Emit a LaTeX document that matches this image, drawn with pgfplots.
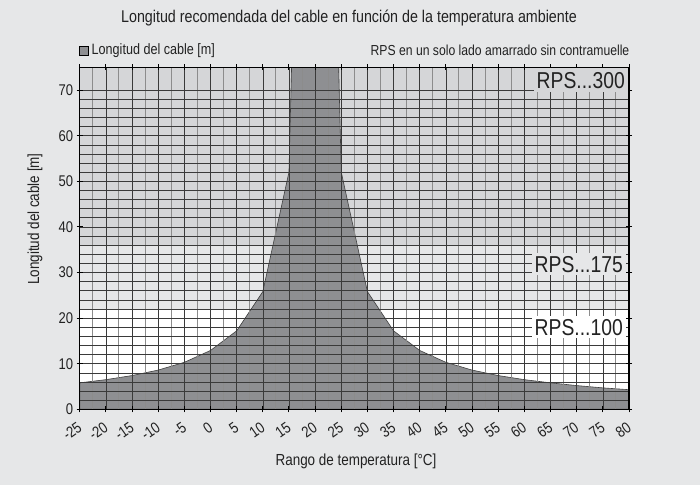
\documentclass[border=0pt]{standalone}
\usepackage{fontspec}
\setmainfont[FakeStretch=0.84]{Liberation Sans}
\usepackage{pgfplots}
\pgfplotsset{compat=1.18}
\definecolor{bg}{HTML}{E6E7E8}
\definecolor{bandlight}{HTML}{E6E7E8}
\definecolor{banddark}{HTML}{D5D6D8}
\definecolor{areagray}{HTML}{8E8F92}
\definecolor{gridmaj}{HTML}{3A3A3A}
\definecolor{gridmin}{HTML}{8C8C8C}
\definecolor{txt}{HTML}{222222}
\newcommand{\fs}[1]{\fontsize{#1bp}{#1bp}\selectfont}
\begin{document}
\begin{tikzpicture}
\fill[bg] (0bp,0bp) rectangle (700bp,485bp);
\begin{axis}[
  at={(79.7bp,75.7bp)}, anchor=south west,
  scale only axis, width=549.3bp, height=342bp,
  xmin=-25, xmax=80, ymin=0, ymax=75,
  xtick={-25,-20,...,80}, ytick={0,10,...,70},
  xticklabels={-25,-20,-15,-10,-5,0,5,10,15,20,25,30,35,40,45,50,55,60,65,70,75,80},
  yticklabels={0,10,20,30,40,50,60,70},
  minor x tick num=1, minor y tick num=4,
  grid=both,
  major x grid style={gridmaj, line width=0.5bp},
  minor x grid style={gridmin, line width=1bp},
  major y grid style={gridmaj, line width=0.6bp},
  minor y grid style={gridmaj, line width=0.6bp},
  axis on top,
  axis line style={black, line width=1.3bp},
  tick style={black, line width=1bp},
  major tick length=6bp, minor tick length=0bp,
  tick align=center,
  every tick label/.append style={font=\fs{15.5}, text=txt},
  xticklabel style={rotate=35, anchor=north east, xshift=-4bp, yshift=-2bp},
  yticklabel style={xshift=0bp},
]
\addplot[fill=white, draw=none] coordinates {(-25,0) (80,0) (80,22) (-25,22)} -- cycle;
\addplot[fill=bandlight, draw=none] coordinates {(-25,22) (80,22) (80,36) (-25,36)} -- cycle;
\addplot[fill=banddark, draw=none] coordinates {(-25,36) (80,36) (80,75) (-25,75)} -- cycle;
\addplot[fill=areagray, draw=black!75, line width=0.6bp] coordinates {
 (-25,0) (-25,5.8) (-20,6.5) (-15,7.4) (-10,8.6) (-5,10.3) (0,12.9) (5,17.2) (10,25.8)
 (15,52) (15.5,75) (24.5,75) (25,52) (30,25.8) (35,17.2) (40,12.9) (45,10.3) (50,8.6)
 (55,7.4) (60,6.5) (65,5.8) (70,5.2) (75,4.7) (80,4.3) (80,0)} -- cycle;
\coordinate (c300) at (axis cs:80,75);
\coordinate (c175) at (axis cs:80,31.8);
\coordinate (c100) at (axis cs:80,18);
\end{axis}
\node[fill=banddark, anchor=north east, inner xsep=3bp, inner ysep=3.5bp, text=txt, font=\fs{23}] at ([xshift=-1bp,yshift=-1bp]c300) {RPS...300};
\node[fill=bandlight, anchor=east, inner xsep=3bp, inner ysep=3bp, text=txt, font=\fs{23}] at ([xshift=-3bp]c175) {RPS...175};
\node[fill=white, anchor=east, inner xsep=3bp, inner ysep=3bp, text=txt, font=\fs{23}] at ([xshift=-3bp]c100) {RPS...100};
\node[text=txt, font=\fs{17}] at (349bp,467bp) {Longitud recomendada del cable en función de la temperatura ambiente};
\fill[areagray, draw=black, line width=0.6bp] (79.5bp,430bp) rectangle (88bp,439bp);
\node[text=txt, font=\fs{15}, anchor=west, inner sep=0pt] at (91.5bp,434.5bp) {Longitud del cable [m]};
\node[text=txt, font=\fs{14.5}, anchor=east, inner sep=0pt] at (629.5bp,434.5bp) {RPS en un solo lado amarrado sin contramuelle};
\node[text=txt, font=\fs{16}] at (356bp,24bp) {Rango de temperatura [°C]};
\node[text=txt, font=\fs{16}, rotate=90] at (35bp,266bp) {Longitud del cable [m]};
\pgfresetboundingbox
\useasboundingbox (0bp,0bp) rectangle (700bp,485bp);
\end{tikzpicture}
\end{document}
